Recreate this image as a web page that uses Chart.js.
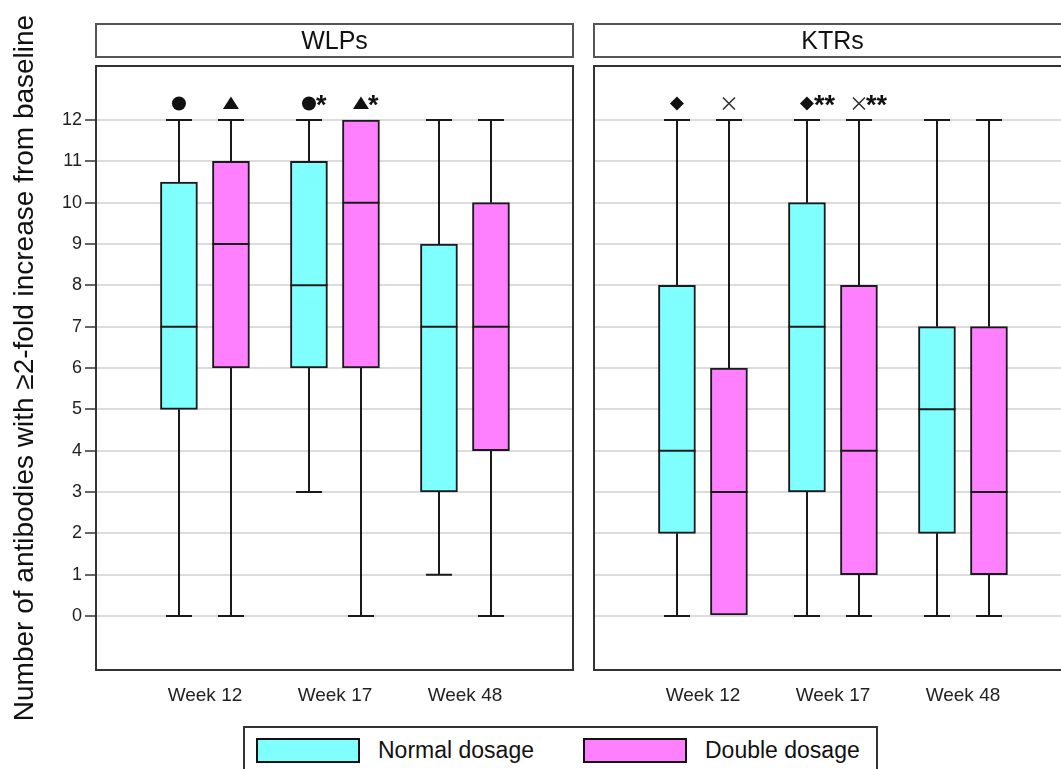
<!DOCTYPE html>
<html>
<head>
<meta charset="utf-8">
<script src="https://cdn.jsdelivr.net/npm/chart.js@4.4.0/dist/chart.umd.min.js"></script>
<style>
  html, body { margin: 0; padding: 0; background: #fff; overflow: hidden; width: 1061px; height: 769px; }
  canvas { position: absolute; top: 0; }
  #c1 { left: 0; }
  #c2 { left: 584px; }
  #legend { position: absolute; left: 243px; top: 726px; width: 631px; height: 60px; border: 2px solid #333; background: #fff;
            font-family: "Liberation Sans", Arial, sans-serif; font-size: 23px; color: #111; }
  .sw { position: absolute; top: 10px; width: 100px; height: 21px; border: 2px solid #111; }
  .lt { position: absolute; top: 9px; line-height: 26px; }
</style>
</head>
<body>
<canvas id="c1" width="584" height="769"></canvas>
<canvas id="c2" width="497" height="769"></canvas>
<div id="legend">
  <div class="sw" style="left:11px;background:#80ffff"></div><div class="lt" id="lt1" style="left:133px"></div>
  <div class="sw" style="left:338px;background:#ff80ff"></div><div class="lt" id="lt2" style="left:460px"></div>
</div>
<script>
// ---- categories & labels ----
const weeks = ['Week 12', 'Week 17', 'Week 48'];
const panelTitles = ['WLPs', 'KTRs'];
const seriesNames = ['Normal dosage', 'Double dosage'];
const yTicks = [0, 1, 2, 3, 4, 5, 6, 7, 8, 9, 10, 11, 12];
const yTitle = 'Number of antibodies with \u22652-fold increase from baseline';

// ---- WLPs ----
const wlpNormalMin = [0, 3, 1];
const wlpNormalQ1  = [5, 6, 3];
const wlpNormalMed = [7, 8, 7];
const wlpNormalQ3  = [10.5, 11, 9];
const wlpNormalMax = [12, 12, 12];
const wlpDoubleMin = [0, 0, 0];
const wlpDoubleQ1  = [6, 6, 4];
const wlpDoubleMed = [9, 10, 7];
const wlpDoubleQ3  = [11, 12, 10];
const wlpDoubleMax = [12, 12, 12];
const wlpNormalSym = ['circle', 'circle', null];
const wlpNormalSig = ['', '*', ''];
const wlpDoubleSym = ['triangle', 'triangle', null];
const wlpDoubleSig = ['', '*', ''];

// ---- KTRs ----
const ktrNormalMin = [0, 0, 0];
const ktrNormalQ1  = [2, 3, 2];
const ktrNormalMed = [4, 7, 5];
const ktrNormalQ3  = [8, 10, 7];
const ktrNormalMax = [12, 12, 12];
const ktrDoubleMin = [0, 0, 0];
const ktrDoubleQ1  = [0, 1, 1];
const ktrDoubleMed = [3, 4, 3];
const ktrDoubleQ3  = [6, 8, 7];
const ktrDoubleMax = [12, 12, 12];
const ktrNormalSym = ['diamond', 'diamond', null];
const ktrNormalSig = ['', '**', ''];
const ktrDoubleSym = ['cross', 'cross', null];
const ktrDoubleSig = ['', '**', ''];

// ---- styling ----
const FONT = '"Liberation Sans", Arial, Helvetica, sans-serif';
const COLORS = ['#80ffff', '#ff80ff'];
const OFFSETS = [-0.2, 0.2];
const BOX_W = 37, CAP_HALF = 13;
const INK = '#1a1a1a';

document.getElementById('lt1').textContent = seriesNames[0];
document.getElementById('lt2').textContent = seriesNames[1];

const panels = [
  { title: panelTitles[0], series: [
    { min: wlpNormalMin, q1: wlpNormalQ1, med: wlpNormalMed, q3: wlpNormalQ3, max: wlpNormalMax, sym: wlpNormalSym, sig: wlpNormalSig },
    { min: wlpDoubleMin, q1: wlpDoubleQ1, med: wlpDoubleMed, q3: wlpDoubleQ3, max: wlpDoubleMax, sym: wlpDoubleSym, sig: wlpDoubleSig } ] },
  { title: panelTitles[1], series: [
    { min: ktrNormalMin, q1: ktrNormalQ1, med: ktrNormalMed, q3: ktrNormalQ3, max: ktrNormalMax, sym: ktrNormalSym, sig: ktrNormalSig },
    { min: ktrDoubleMin, q1: ktrDoubleQ1, med: ktrDoubleMed, q3: ktrDoubleQ3, max: ktrDoubleMax, sym: ktrDoubleSym, sig: ktrDoubleSig } ] }
];

function drawSymbol(ctx, type, x, y) {
  ctx.save();
  ctx.fillStyle = '#111';
  ctx.strokeStyle = '#333';
  ctx.beginPath();
  if (type === 'circle') {
    ctx.arc(x, y, 7, 0, Math.PI * 2); ctx.fill();
  } else if (type === 'triangle') {
    ctx.moveTo(x, y - 7); ctx.lineTo(x + 8, y + 5.5); ctx.lineTo(x - 8, y + 5.5); ctx.closePath(); ctx.fill();
  } else if (type === 'diamond') {
    ctx.moveTo(x, y - 7); ctx.lineTo(x + 7, y); ctx.lineTo(x, y + 7); ctx.lineTo(x - 7, y); ctx.closePath(); ctx.fill();
  } else if (type === 'cross') {
    ctx.lineWidth = 1.6;
    ctx.moveTo(x - 6, y - 6); ctx.lineTo(x + 6, y + 6);
    ctx.moveTo(x + 6, y - 6); ctx.lineTo(x - 6, y + 6); ctx.stroke();
  }
  ctx.restore();
}

function boxPlugin(panel) {
  return {
    id: 'boxExtras',
    beforeDatasetsDraw(chart) {
      const { ctx, scales: { x, y } } = chart;
      ctx.save();
      ctx.strokeStyle = INK; ctx.lineWidth = 2;
      panel.series.forEach((s, k) => {
        weeks.forEach((w, i) => {
          const px = Math.round(x.getPixelForValue(i + OFFSETS[k]));
          const segs = [[s.q3[i], s.max[i]], [s.q1[i], s.min[i]]];
          segs.forEach(([from, to]) => {
            if (from === to) return;
            const y1 = y.getPixelForValue(from), y2 = y.getPixelForValue(to);
            ctx.beginPath();
            ctx.moveTo(px, y1); ctx.lineTo(px, y2);
            ctx.moveTo(px - CAP_HALF, y2); ctx.lineTo(px + CAP_HALF, y2);
            ctx.stroke();
          });
        });
      });
      ctx.restore();
    },
    afterDatasetsDraw(chart) {
      const { ctx, chartArea: a, scales: { x, y } } = chart;
      ctx.save();
      // medians
      ctx.strokeStyle = INK; ctx.lineWidth = 2;
      panel.series.forEach((s, k) => {
        weeks.forEach((w, i) => {
          const px = x.getPixelForValue(i + OFFSETS[k]);
          const py = y.getPixelForValue(s.med[i]);
          ctx.beginPath(); ctx.moveTo(px - BOX_W / 2, py); ctx.lineTo(px + BOX_W / 2, py); ctx.stroke();
        });
      });
      // significance markers above whiskers
      panel.series.forEach((s, k) => {
        weeks.forEach((w, i) => {
          if (!s.sym[i]) return;
          const px = x.getPixelForValue(i + OFFSETS[k]);
          const py = y.getPixelForValue(s.max[i]) - 16.5;
          drawSymbol(ctx, s.sym[i], px, py);
          if (s.sig[i]) {
            ctx.fillStyle = '#111';
            ctx.font = 'bold 27px ' + FONT;
            ctx.textAlign = 'left'; ctx.textBaseline = 'alphabetic';
            ctx.fillText(s.sig[i], px + 7, py + 11);
          }
        });
      });
      // panel frame
      ctx.strokeStyle = '#333'; ctx.lineWidth = 2;
      ctx.strokeRect(a.left, a.top, a.right - a.left, a.bottom - a.top);
      // header strip
      ctx.strokeStyle = '#555';
      ctx.strokeRect(a.left, 24, a.right - a.left, 33);
      ctx.fillStyle = '#111';
      ctx.font = '25px ' + FONT;
      ctx.textAlign = 'center'; ctx.textBaseline = 'middle';
      ctx.fillText(panel.title, (a.left + a.right) / 2, 42);
      ctx.restore();
    }
  };
}

function makeChart(canvasId, panel, isLeft) {
  const datasets = panel.series.map((s, k) => ({
    label: seriesNames[k],
    data: weeks.map((w, i) => ({ x: i + OFFSETS[k], y: [s.q1[i], s.q3[i]] })),
    backgroundColor: COLORS[k],
    borderColor: INK,
    borderWidth: 2,
    borderSkipped: false,
    grouped: false,
    barThickness: BOX_W,
    maxBarThickness: BOX_W
  }));
  return new Chart(document.getElementById(canvasId), {
    type: 'bar',
    data: { datasets },
    plugins: [boxPlugin(panel)],
    options: {
      responsive: false,
      animation: false,
      events: [],
      layout: { padding: { top: 66, right: isLeft ? 11 : 10, left: 0, bottom: 0 } },
      plugins: { legend: { display: false }, tooltip: { enabled: false } },
      scales: {
        x: {
          type: 'linear',
          offset: false,
          min: -0.838, max: 2.831,
          afterBuildTicks: (sc) => { sc.ticks = weeks.map((w, i) => ({ value: i })); },
          afterFit: (sc) => { sc.height = 99; },
          grid: { display: false, drawTicks: false, offset: false },
          border: { display: false },
          ticks: {
            callback: (v) => weeks[v] !== undefined ? weeks[v] : '',
            font: { family: FONT, size: 19 },
            color: '#222',
            padding: 14,
            maxRotation: 0, autoSkip: false
          }
        },
        y: {
          min: -1.306, max: 13.306,
          afterBuildTicks: (sc) => { sc.ticks = yTicks.map(v => ({ value: v })); },
          afterFit: (sc) => { sc.width = isLeft ? 96 : 10; },
          border: { display: false },
          grid: {
            color: '#dcdcdc', lineWidth: 2,
            drawTicks: isLeft, tickLength: 11, tickColor: '#333', tickWidth: 1.5
          },
          ticks: {
            display: isLeft,
            font: { family: FONT, size: 18 },
            color: '#222',
            padding: 3
          },
          title: {
            display: isLeft,
            text: yTitle,
            font: { family: FONT, size: 28 },
            color: '#111',
            padding: { top: 8, bottom: 0 }
          }
        }
      }
    }
  });
}

makeChart('c1', panels[0], true);
makeChart('c2', panels[1], false);
</script>
</body>
</html>
